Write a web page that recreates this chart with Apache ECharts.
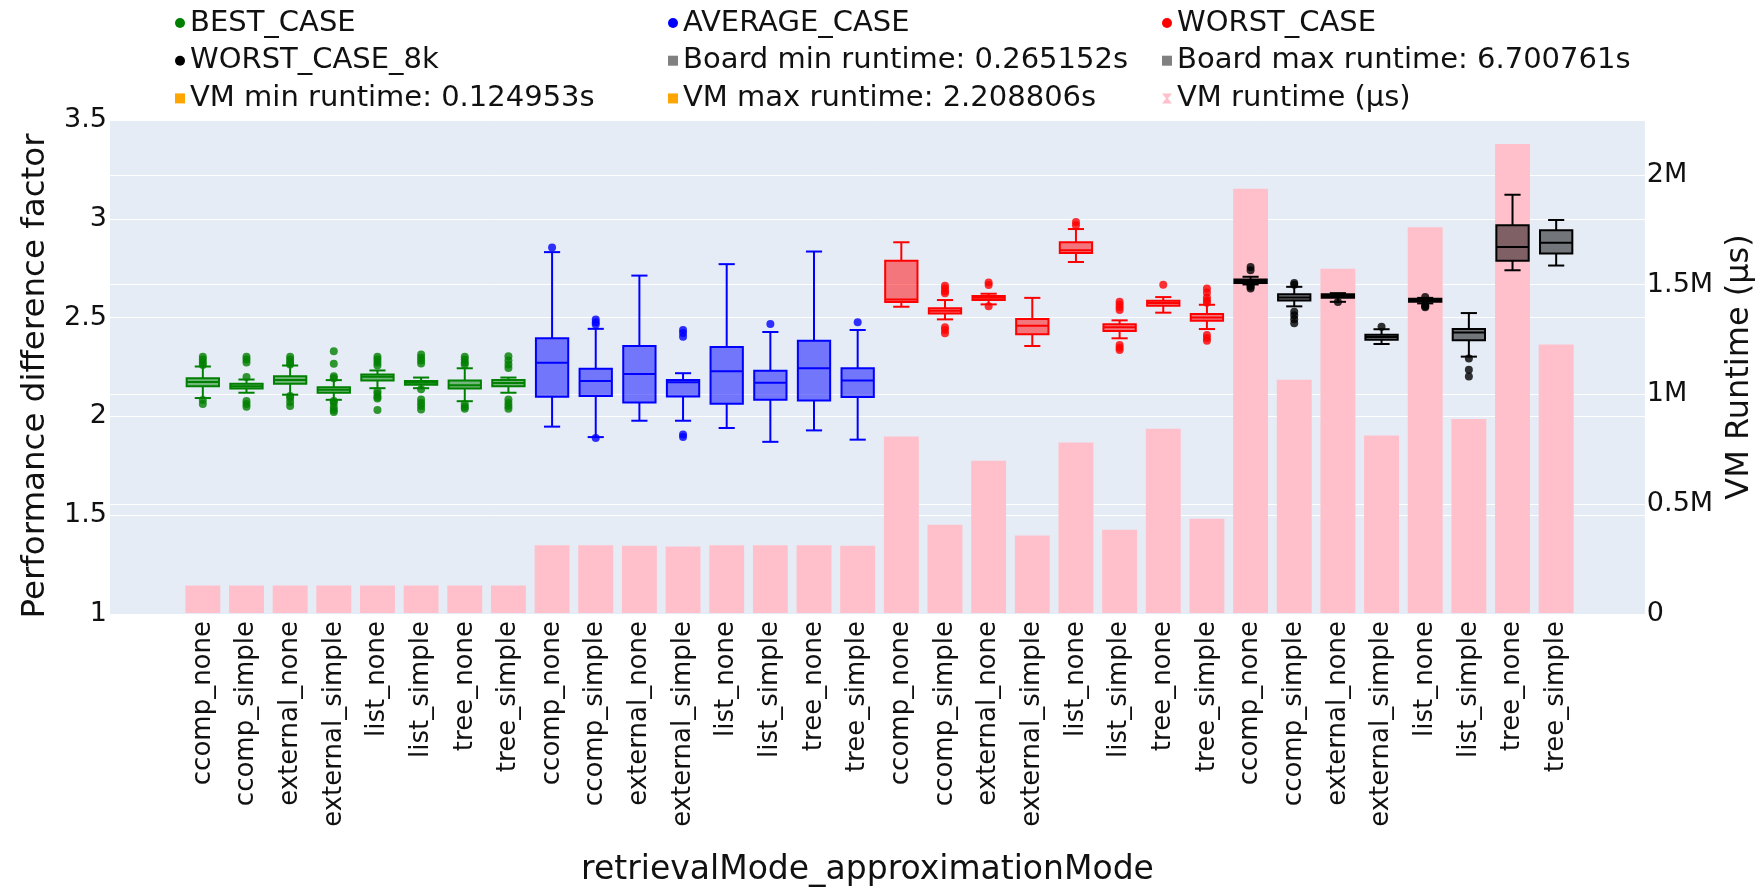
<!DOCTYPE html>
<html>
<head>
<meta charset="utf-8">
<script src="https://cdn.jsdelivr.net/npm/echarts@6/dist/echarts.min.js"></script>
<style>
  html, body { margin: 0; padding: 0; background: #fff; }
  #chart { width: 1764px; height: 892px; }
</style>
</head>
<body>
<div id="chart"></div>
<script>
// retrieval/approximation modes, repeated once per case
var modes = ['ccomp_none', 'ccomp_simple', 'external_none', 'external_simple',
  'list_none', 'list_simple', 'tree_none', 'tree_simple'];
var categories = modes.concat(modes, modes, modes);

// boxes: [min, Q1, median, Q3, max] per mode
var bestCase = [
  [2.090, 2.150, 2.171, 2.191, 2.250],
  [2.117, 2.139, 2.150, 2.162, 2.184],
  [2.107, 2.162, 2.181, 2.201, 2.255],
  [2.081, 2.117, 2.132, 2.145, 2.181],
  [2.140, 2.179, 2.198, 2.210, 2.230],
  [2.140, 2.157, 2.168, 2.176, 2.194],
  [2.074, 2.139, 2.155, 2.179, 2.241],
  [2.117, 2.150, 2.166, 2.181, 2.194]
];
var averageCase = [
  [1.945, 2.097, 2.269, 2.393, 2.830],
  [1.892, 2.100, 2.176, 2.238, 2.441],
  [1.975, 2.068, 2.212, 2.354, 2.711],
  [1.975, 2.098, 2.170, 2.182, 2.216],
  [1.938, 2.061, 2.226, 2.349, 2.769],
  [1.868, 2.081, 2.167, 2.229, 2.425],
  [1.926, 2.077, 2.241, 2.381, 2.833],
  [1.879, 2.095, 2.179, 2.241, 2.435]
];
var worstCase = [
  [2.553, 2.577, 2.590, 2.786, 2.880],
  [2.489, 2.519, 2.533, 2.545, 2.587],
  [2.565, 2.587, 2.598, 2.608, 2.619],
  [2.354, 2.413, 2.457, 2.491, 2.598],
  [2.780, 2.826, 2.840, 2.880, 2.947],
  [2.393, 2.430, 2.449, 2.464, 2.484],
  [2.523, 2.558, 2.572, 2.583, 2.602],
  [2.440, 2.482, 2.499, 2.516, 2.563]
];
var worstCase8k = [
  [2.666, 2.674, 2.683, 2.691, 2.705],
  [2.555, 2.585, 2.600, 2.616, 2.654],
  [2.578, 2.598, 2.607, 2.616, 2.622],
  [2.364, 2.386, 2.400, 2.411, 2.439],
  [2.570, 2.578, 2.587, 2.593, 2.598],
  [2.300, 2.383, 2.423, 2.440, 2.521],
  [2.738, 2.786, 2.856, 2.966, 3.121],
  [2.762, 2.823, 2.877, 2.941, 2.993]
];

// suspected outliers per mode
var bestOutliers = [
  [2.300, 2.285, 2.270, 2.258, 2.080, 2.060],
  [2.300, 2.285, 2.270, 2.197, 2.075, 2.060, 2.046],
  [2.299, 2.285, 2.270, 2.260, 2.100, 2.090, 2.070, 2.050],
  [2.327, 2.264, 2.201, 2.190, 2.075, 2.066, 2.045, 2.030, 2.019],
  [2.300, 2.285, 2.270, 2.255, 2.125, 2.110, 2.095, 2.088, 2.029],
  [2.311, 2.295, 2.280, 2.265, 2.135, 2.083, 2.065, 2.050, 2.032],
  [2.299, 2.285, 2.270, 2.260, 2.058, 2.045, 2.036],
  [2.302, 2.280, 2.260, 2.243, 2.083, 2.065, 2.050, 2.036]
];
var averageOutliers = [
  [2.854],
  [2.488, 2.475, 2.463, 1.887],
  [],
  [2.435, 2.420, 2.401, 1.905, 1.892],
  [],
  [2.465],
  [],
  [2.475]
];
var worstOutliers = [
  [],
  [2.659, 2.645, 2.632, 2.621, 2.449, 2.435, 2.418],
  [2.676, 2.663, 2.556],
  [],
  [2.983, 2.966],
  [2.578, 2.565, 2.550, 2.536, 2.359, 2.345, 2.334],
  [2.664],
  [2.646, 2.625, 2.600, 2.585, 2.573, 2.410, 2.395, 2.381]
];
var worst8kOutliers = [
  [2.755, 2.738, 2.661, 2.655, 2.646],
  [2.674, 2.665, 2.528, 2.510, 2.490, 2.469],
  [2.577],
  [2.452],
  [2.603, 2.561, 2.555, 2.550],
  [2.290, 2.233, 2.199],
  [],
  []
];

// VM runtime in microseconds, one per category
var vmRuntime = [
  125000, 125000, 125000, 125000, 125000, 125000, 125000, 125000,
  309000, 309000, 307000, 304000, 309000, 309000, 309000, 307000,
  806000, 403000, 695000, 354000, 778000, 380000, 841000, 430000,
  1936000, 1064000, 1571000, 810000, 1761000, 885000, 2140000, 1225000
];

var legendNotes = ['Board min runtime: 0.265152s', 'Board max runtime: 6.700761s',
  'VM min runtime: 0.124953s', 'VM max runtime: 2.208806s'];

var chartDom = document.getElementById('chart');
var myChart = echarts.init(chartDom);

function boxRows(boxes, offset) {
  return boxes.map(function (b, i) { return [offset + i].concat(b); });
}
function outlierRows(list, offset) {
  var rows = [];
  list.forEach(function (vals, i) {
    vals.forEach(function (v) { rows.push([offset + i, v]); });
  });
  return rows;
}

function boxSeries(name, boxes, offset, color, fill) {
  return {
    name: name,
    type: 'custom',
    xAxisIndex: 1,
    yAxisIndex: 2,
    z: 3,
    itemStyle: { color: color },
    encode: { x: 0, y: [1, 2, 3, 4, 5] },
    data: boxRows(boxes, offset),
    renderItem: function (params, api) {
      var x = api.value(0);
      var lo = api.coord([x, api.value(1)]);
      var q1 = api.coord([x, api.value(2)]);
      var md = api.coord([x, api.value(3)]);
      var q3 = api.coord([x, api.value(4)]);
      var hi = api.coord([x, api.value(5)]);
      var bw = api.size([1, 0])[0] * 0.74;
      var cx = lo[0];
      var ln = { stroke: color, lineWidth: 2 };
      return {
        type: 'group',
        children: [
          { type: 'line', shape: { x1: cx, y1: hi[1], x2: cx, y2: q3[1] }, style: ln },
          { type: 'line', shape: { x1: cx, y1: q1[1], x2: cx, y2: lo[1] }, style: ln },
          { type: 'line', shape: { x1: cx - bw / 4, y1: hi[1], x2: cx + bw / 4, y2: hi[1] }, style: ln },
          { type: 'line', shape: { x1: cx - bw / 4, y1: lo[1], x2: cx + bw / 4, y2: lo[1] }, style: ln },
          { type: 'rect', shape: { x: cx - bw / 2, y: q3[1], width: bw, height: Math.max(q1[1] - q3[1], 1) },
            style: { fill: fill, stroke: color, lineWidth: 2 } },
          { type: 'line', shape: { x1: cx - bw / 2, y1: md[1], x2: cx + bw / 2, y2: md[1] }, style: ln }
        ]
      };
    }
  };
}

function outlierSeries(name, list, offset, color) {
  return {
    name: name,
    type: 'scatter',
    xAxisIndex: 1,
    yAxisIndex: 2,
    z: 4,
    symbolSize: 8,
    itemStyle: { color: color },
    data: outlierRows(list, offset)
  };
}

var font = 'DejaVu Sans';
var legendText = { fontFamily: font, fontSize: 29, color: '#111', lineHeight: 30 };
function legendCol(left, items) {
  return {
    orient: 'vertical', left: left, top: 3, itemGap: 7.7,
    itemWidth: 10, itemHeight: 10,
    textStyle: legendText, data: items, selectedMode: false
  };
}

var option = {
  animation: false,
  backgroundColor: '#fff',
  legend: [
    legendCol(170, [{ name: 'BEST_CASE', icon: 'circle' }, { name: 'WORST_CASE_8k', icon: 'circle' },
      { name: legendNotes[2], icon: 'rect' }]),
    legendCol(663, [{ name: 'AVERAGE_CASE', icon: 'circle' }, { name: legendNotes[0], icon: 'rect' },
      { name: legendNotes[3], icon: 'rect' }]),
    legendCol(1157, [{ name: 'WORST_CASE', icon: 'circle' }, { name: legendNotes[1], icon: 'rect' },
      { name: 'VM runtime (µs)', icon: 'path://M0,0 L10,0 L6,5 L10,10 L0,10 L4,5 Z' }])
  ],
  grid: [
    { left: 110, right: 116, top: 120, bottom: 278, show: true, backgroundColor: '#E5ECF6', borderWidth: 0 },
    { left: 181, right: 186, top: 120, bottom: 278 }
  ],
  xAxis: [
    { gridIndex: 0, type: 'value', min: 0, max: 1, show: false },
    {
      gridIndex: 1, type: 'category', data: categories,
      axisLine: { show: false }, axisTick: { show: false },
      axisLabel: { interval: 0, rotate: 90, margin: 8, fontFamily: font, fontSize: 26, color: '#111' },
      name: 'retrievalMode_approximationMode', nameLocation: 'middle', nameGap: 241,
      nameTextStyle: { fontFamily: font, fontSize: 33, color: '#111', padding: [0, 24, 0, 0] }
    }
  ],
  yAxis: [
    {
      gridIndex: 0, type: 'value', min: 1, max: 3.5, interval: 0.5,
      axisLine: { show: false }, axisTick: { show: false },
      axisLabel: { margin: 3, fontFamily: font, fontSize: 27, color: '#111' },
      splitLine: { lineStyle: { color: '#fff', width: 1 } },
      name: 'Performance difference factor', nameLocation: 'middle', nameGap: 58, nameRotate: 90,
      nameTextStyle: { fontFamily: font, fontSize: 32.5, color: '#111', padding: [0, 18, 0, 0] }
    },
    {
      gridIndex: 0, type: 'value', position: 'right', min: 0, max: 2250000, interval: 500000,
      axisLine: { show: false }, axisTick: { show: false },
      axisLabel: {
        margin: 2, fontFamily: font, fontSize: 27, color: '#111', showMaxLabel: false,
        formatter: function (v) { return v === 0 ? '0' : (v / 1e6) + 'M'; }
      },
      splitLine: { showMaxLine: false, lineStyle: { color: '#fff', width: 1 } },
      name: 'VM Runtime (µs)', nameLocation: 'middle', nameGap: 56, nameRotate: 90,
      nameTextStyle: { fontFamily: font, fontSize: 32, color: '#111' }
    },
    { gridIndex: 1, type: 'value', min: 1, max: 3.5, show: false },
    { gridIndex: 1, type: 'value', min: 0, max: 2250000, show: false }
  ],
  series: [
    {
      name: 'VM runtime (µs)', type: 'bar', xAxisIndex: 1, yAxisIndex: 3, z: 1,
      barWidth: '80%', itemStyle: { color: '#FFC0CB' }, data: vmRuntime
    },
    boxSeries('BEST_CASE', bestCase, 0, '#008000', 'rgba(0,128,0,0.5)'),
    boxSeries('AVERAGE_CASE', averageCase, 8, '#0000FF', 'rgba(0,0,255,0.5)'),
    boxSeries('WORST_CASE', worstCase, 16, '#FF0000', 'rgba(255,0,0,0.5)'),
    boxSeries('WORST_CASE_8k', worstCase8k, 24, '#000000', 'rgba(0,0,0,0.5)'),
    outlierSeries('BEST_CASE', bestOutliers, 0, '#008000'),
    outlierSeries('AVERAGE_CASE', averageOutliers, 8, '#0000FF'),
    outlierSeries('WORST_CASE', worstOutliers, 16, '#FF0000'),
    outlierSeries('WORST_CASE_8k', worst8kOutliers, 24, '#000000'),
    { name: legendNotes[0], type: 'line', data: [], itemStyle: { color: '#808080' } },
    { name: legendNotes[1], type: 'line', data: [], itemStyle: { color: '#808080' } },
    { name: legendNotes[2], type: 'line', data: [], itemStyle: { color: '#FFA500' } },
    { name: legendNotes[3], type: 'line', data: [], itemStyle: { color: '#FFA500' } }
  ]
};

option && myChart.setOption(option);
</script>
</body>
</html>
